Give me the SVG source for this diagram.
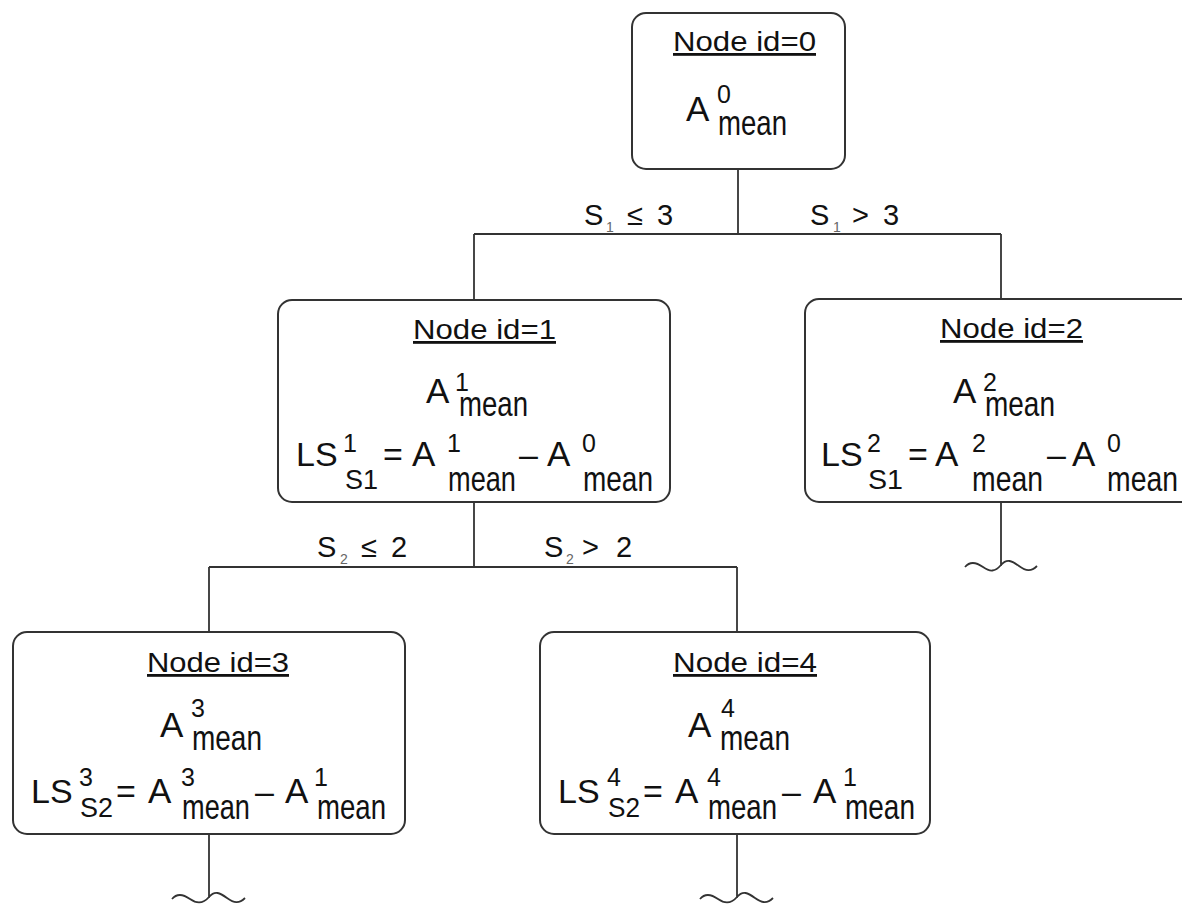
<svg xmlns="http://www.w3.org/2000/svg" width="1182" height="904" viewBox="0 0 1182 904">
<style>
.box{fill:#fff;stroke:#333;stroke-width:2}
.ln{fill:none;stroke:#333;stroke-width:1.8}
text{font-family:"Liberation Sans",Arial,sans-serif;fill:#111}
.id{font-size:28px;text-decoration:underline}
.A{font-size:35px}
.sup{font-size:25px}
.mean{font-size:35px}
.sub{font-size:27px}
.op{font-size:34px}
.lbl{font-size:29px}
.ls{font-size:14px;fill:#666}
</style>
<rect width="1182" height="904" fill="#fff"/>
<g id="connectors">
<path class="ln" d="M738,169V234M474,234H1001M474,234V300M1001,234V299"/>
<path class="ln" d="M474,502V567M209,567H737M209,567V632M737,567V632"/>
<path class="ln" d="M1001,502V566M965,567C970,561 976,562 983,567S995,572 1001,565S1012,561 1019,566S1031,572 1037,566"/>
<path class="ln" d="M209,834V898M172,899C177,893 183,894 190,899S203,904 209,897S220,893 227,898S239,904 245,898"/>
<path class="ln" d="M737,834V898M700,899C705,893 711,894 718,899S731,904 737,897S748,893 755,898S767,904 773,898"/>
<text class="lbl" x="584" y="225">S</text><text class="ls" x="606" y="232">1</text><text class="lbl" x="627" y="225">≤</text><text class="lbl" x="657" y="225">3</text>
<text class="lbl" x="810" y="225">S</text><text class="ls" x="833" y="232">1</text><text class="lbl" x="852" y="225">&gt;</text><text class="lbl" x="883" y="225">3</text>
<text class="lbl" x="317" y="557">S</text><text class="ls" x="340" y="564">2</text><text class="lbl" x="361" y="557">≤</text><text class="lbl" x="391" y="557">2</text>
<text class="lbl" x="544" y="557">S</text><text class="ls" x="566" y="564">2</text><text class="lbl" x="582" y="557">&gt;</text><text class="lbl" x="616" y="557">2</text>
</g>
<g id="node0">
<rect class="box" x="632" y="13" width="213" height="156" rx="14"/>
<text class="id" x="673" y="51" textLength="143" lengthAdjust="spacingAndGlyphs">Node id=0</text>
<text class="A" x="686" y="121">A</text><text class="sup" x="717" y="103">0</text><text class="mean" x="718" y="135" textLength="69" lengthAdjust="spacingAndGlyphs">mean</text>
</g>
<g id="node1">
<rect class="box" x="278" y="300" width="392" height="202" rx="14"/>
<text class="id" x="413" y="339" textLength="143" lengthAdjust="spacingAndGlyphs">Node id=1</text>
<text class="A" x="426" y="403">A</text><text class="sup" x="455" y="391">1</text><text class="mean" x="459" y="416" textLength="69" lengthAdjust="spacingAndGlyphs">mean</text>
<text class="op" x="296" y="466">LS</text><text class="sup" x="343" y="452">1</text><text class="sub" x="345" y="489" textLength="33" lengthAdjust="spacingAndGlyphs">S1</text>
<text class="op" x="383" y="466">=</text><text class="A" x="412" y="466">A</text><text class="sup" x="447" y="452">1</text><text class="mean" x="448" y="491" textLength="68" lengthAdjust="spacingAndGlyphs">mean</text>
<text class="op" x="519" y="466">–</text><text class="A" x="547" y="466">A</text><text class="sup" x="582" y="452">0</text><text class="mean" x="583" y="491" textLength="70" lengthAdjust="spacingAndGlyphs">mean</text>
</g>
<g id="node2">
<rect class="box" x="805" y="299" width="392" height="203" rx="14"/>
<text class="id" x="940" y="338" textLength="143" lengthAdjust="spacingAndGlyphs">Node id=2</text>
<text class="A" x="953" y="403">A</text><text class="sup" x="983" y="391">2</text><text class="mean" x="985" y="416" textLength="70" lengthAdjust="spacingAndGlyphs">mean</text>
<text class="op" x="821" y="466">LS</text><text class="sup" x="867" y="452">2</text><text class="sub" x="868" y="489" textLength="35" lengthAdjust="spacingAndGlyphs">S1</text>
<text class="op" x="908" y="466">=</text><text class="A" x="935" y="466">A</text><text class="sup" x="972" y="452">2</text><text class="mean" x="972" y="491" textLength="71" lengthAdjust="spacingAndGlyphs">mean</text>
<text class="op" x="1047" y="466">–</text><text class="A" x="1072" y="466">A</text><text class="sup" x="1107" y="452">0</text><text class="mean" x="1107" y="491" textLength="71" lengthAdjust="spacingAndGlyphs">mean</text>
</g>
<g id="node3">
<rect class="box" x="13" y="632" width="392" height="202" rx="14"/>
<text class="id" x="147" y="672" textLength="142" lengthAdjust="spacingAndGlyphs">Node id=3</text>
<text class="A" x="160" y="737">A</text><text class="sup" x="191" y="717">3</text><text class="mean" x="192" y="750" textLength="70" lengthAdjust="spacingAndGlyphs">mean</text>
<text class="op" x="31" y="803">LS</text><text class="sup" x="79" y="786">3</text><text class="sub" x="80" y="817" textLength="33" lengthAdjust="spacingAndGlyphs">S2</text>
<text class="op" x="116" y="803">=</text><text class="A" x="148" y="803">A</text><text class="sup" x="181" y="786">3</text><text class="mean" x="182" y="819" textLength="68" lengthAdjust="spacingAndGlyphs">mean</text>
<text class="op" x="255" y="803">–</text><text class="A" x="285" y="803">A</text><text class="sup" x="314" y="786">1</text><text class="mean" x="317" y="819" textLength="69" lengthAdjust="spacingAndGlyphs">mean</text>
</g>
<g id="node4">
<rect class="box" x="540" y="632" width="390" height="202" rx="14"/>
<text class="id" x="673" y="672" textLength="144" lengthAdjust="spacingAndGlyphs">Node id=4</text>
<text class="A" x="688" y="737">A</text><text class="sup" x="721" y="717">4</text><text class="mean" x="720" y="750" textLength="70" lengthAdjust="spacingAndGlyphs">mean</text>
<text class="op" x="558" y="803">LS</text><text class="sup" x="607" y="786">4</text><text class="sub" x="608" y="817" textLength="32" lengthAdjust="spacingAndGlyphs">S2</text>
<text class="op" x="643" y="803">=</text><text class="A" x="675" y="803">A</text><text class="sup" x="707" y="786">4</text><text class="mean" x="708" y="819" textLength="69" lengthAdjust="spacingAndGlyphs">mean</text>
<text class="op" x="782" y="803">–</text><text class="A" x="813" y="803">A</text><text class="sup" x="843" y="786">1</text><text class="mean" x="845" y="819" textLength="70" lengthAdjust="spacingAndGlyphs">mean</text>
</g>
</svg>
